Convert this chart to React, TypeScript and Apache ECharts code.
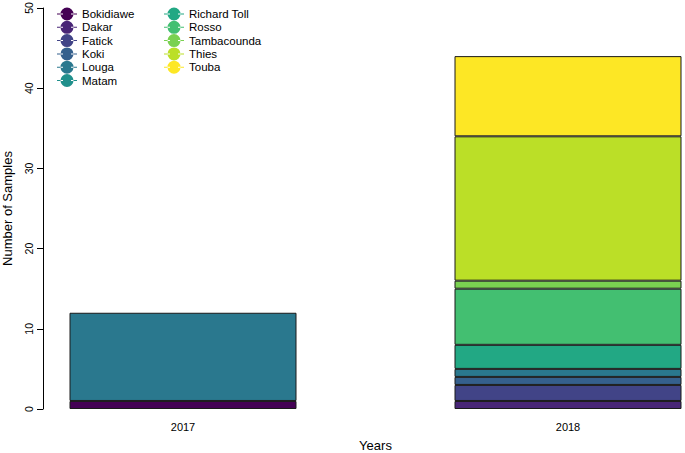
import React, { useEffect, useRef } from "react";
import * as echarts from "echarts";

const years = ["2017", "2018"];
const sites = [
  "Bokidiawe",
  "Dakar",
  "Fatick",
  "Koki",
  "Louga",
  "Matam",
  "Richard Toll",
  "Rosso",
  "Tambacounda",
  "Thies",
  "Touba",
];
const colors = [
  "#440154",
  "#482576",
  "#414487",
  "#35608D",
  "#2A788E",
  "#21908C",
  "#22A884",
  "#43BF71",
  "#7AD151",
  "#BBDF27",
  "#FDE725",
];
// values per site: [2017, 2018]
const bokidiawe = [1, 0];
const dakar = [0, 1];
const fatick = [0, 2];
const koki = [0, 1];
const louga = [11, 1];
const matam = [0, 0];
const richardToll = [0, 3];
const rosso = [0, 7];
const tambacounda = [0, 1];
const thies = [0, 18];
const touba = [0, 10];
const siteValues = [bokidiawe, dakar, fatick, koki, louga, matam, richardToll, rosso, tambacounda, thies, touba];
const yTicks = [0, 10, 20, 30, 40, 50];

const FONT = "Liberation Sans, Arial, Helvetica, sans-serif";
const ICON =
  "path://M0,6L6,6L6,7L0,7Z M14,6L20,6L20,7L14,7Z M3.5,6.5A6.5,6.5 0 1 0 16.5,6.5A6.5,6.5 0 1 0 3.5,6.5Z";

export default function App() {
  const ref = useRef<HTMLDivElement>(null);
  useEffect(() => {
    if (!ref.current) return;
    const chart = echarts.init(ref.current, null, { renderer: "svg" });
    const legendBase = {
      orient: "vertical" as const,
      top: 2.5,
      itemWidth: 20,
      itemHeight: 13,
      itemGap: 0.3,
      icon: ICON,
      itemStyle: { borderWidth: 0 },
      textStyle: { fontSize: 11.5, color: "#000", fontFamily: FONT, lineHeight: 13 },
      selectedMode: false,
    };
    chart.setOption({
      animation: false,
      backgroundColor: "#fff",
      grid: { left: 183, right: 117, top: 8, bottom: 44, containLabel: false, outerBoundsMode: "none" },
      legend: [
        { ...legendBase, left: 52, itemTextGap: 11, data: sites.slice(0, 6) },
        { ...legendBase, left: 159, itemTextGap: 9, data: sites.slice(6) },
      ],
      xAxis: {
        type: "category",
        data: years,
        boundaryGap: false,
        axisLine: { show: false },
        axisTick: { show: false },
        axisLabel: { fontSize: 11, color: "#000", fontFamily: FONT, margin: 12 },
        name: "Years",
        nameLocation: "middle",
        nameGap: 30,
        nameTextStyle: { fontSize: 13, color: "#000", fontFamily: FONT },
      },
      yAxis: {
        type: "value",
        min: yTicks[0],
        max: yTicks[yTicks.length - 1],
        interval: 10,
        offset: 140,
        axisLine: { show: true, lineStyle: { color: "#000", width: 1 } },
        axisTick: { show: true, length: 6, lineStyle: { color: "#000" } },
        splitLine: { show: false },
        axisLabel: {
          rotate: 90,
          fontSize: 10.5,
          color: "#000",
          fontFamily: FONT,
          margin: 9,
        },
        name: "Number of Samples",
        nameLocation: "middle",
        nameGap: 29,
        nameRotate: 90,
        nameTextStyle: { fontSize: 13, color: "#000", fontFamily: FONT },
      },
      series: sites.map((s, i) => ({
        name: s,
        type: "bar",
        stack: "total",
        barWidth: 227,
        data: siteValues[i].map((v) => (v === 0 ? "-" : v)),
        itemStyle: { color: colors[i], borderColor: "#1a1a1a", borderWidth: 1 },
        emphasis: { disabled: true },
      })),
    });
    return () => chart.dispose();
  }, []);
  return <div ref={ref} style={{ width: 685, height: 453, position: "absolute", left: 0, top: 0 }} />;
}
